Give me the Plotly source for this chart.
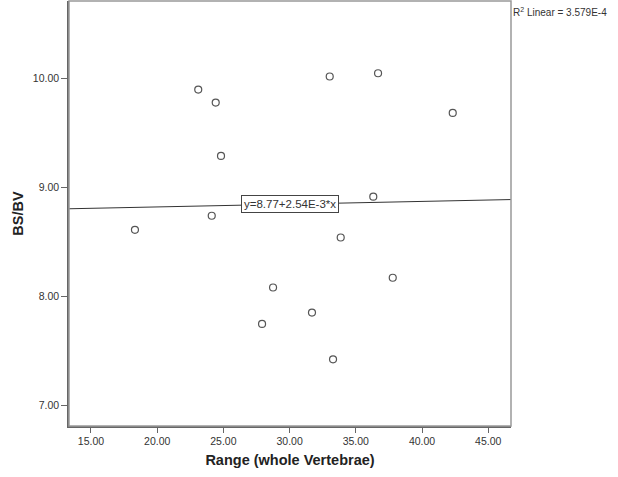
import plotly.graph_objects as go

# Data
range_whole_vertebrae = [18.32, 23.10, 24.42, 24.82, 24.12, 27.92, 28.75, 31.69,
                         33.28, 33.03, 36.68, 33.86, 36.32, 37.79, 42.32]
bs_bv = [8.61, 9.90, 9.78, 9.29, 8.74, 7.745, 8.08, 7.85,
         7.42, 10.02, 10.05, 8.54, 8.915, 8.17, 9.685]

fit_intercept = 8.77
fit_slope = 2.54e-3
r2_text = "R<sup>2</sup> Linear = 3.579E-4"
fit_text = "y=8.77+2.54E-3*x"

x_range = [13.34, 46.72]
y_range = [6.807, 10.714]
x_ticks = [15, 20, 25, 30, 35, 40, 45]
y_ticks = [7, 8, 9, 10]

FONT = "Liberation Sans, Arial, sans-serif"

fig = go.Figure()

fig.add_trace(go.Scatter(
    x=range_whole_vertebrae, y=bs_bv, mode="markers",
    marker=dict(symbol="circle-open", size=7, color="#555555", line=dict(width=1.2, color="#555555")),
    showlegend=False, hoverinfo="x+y"))

line_x = list(x_range)
line_y = [fit_intercept + fit_slope * v for v in line_x]
fig.add_trace(go.Scatter(
    x=line_x, y=line_y, mode="lines",
    line=dict(color="#333333", width=1), showlegend=False, hoverinfo="skip"))

label_x = 30
fig.add_annotation(
    x=label_x, y=fit_intercept + fit_slope * label_x, xref="x", yref="y",
    text=fit_text, showarrow=False,
    font=dict(family=FONT, size=11.5, color="#333333"),
    bgcolor="white", bordercolor="#444444", borderwidth=1, borderpad=2)

fig.add_annotation(
    x=1, y=1, xref="paper", yref="paper", xanchor="left", yanchor="top",
    yshift=-3, xshift=0,
    text=r2_text, showarrow=False,
    font=dict(family=FONT, size=10, color="#333333"))

fig.add_shape(type="rect", xref="paper", yref="paper", x0=0, x1=1, y0=0, y1=1,
              line=dict(color="#999999", width=1.5), layer="above")

fig.update_xaxes(
    range=x_range, tickvals=x_ticks, tickformat=".2f",
    showgrid=False, zeroline=False,
    showline=True, linecolor="#666666", linewidth=1.5,
    ticks="outside", ticklen=5, tickcolor="#666666", tickwidth=1,
    tickfont=dict(family=FONT, size=10.5, color="#333333"),
    title=dict(text="<b>Range (whole Vertebrae)</b>", standoff=9,
               font=dict(family=FONT, size=14.5, color="#222222")))

fig.update_yaxes(
    range=y_range, tickvals=y_ticks, tickformat=".2f",
    showgrid=False, zeroline=False,
    showline=True, linecolor="#666666", linewidth=1.5,
    ticks="outside", ticklen=6, tickcolor="#666666", tickwidth=1,
    tickfont=dict(family=FONT, size=10.5, color="#333333"),
    title=dict(text="<b>BS/BV</b>", standoff=6,
               font=dict(family=FONT, size=14.5, color="#222222")))

fig.update_layout(
    width=618, height=477,
    margin=dict(l=69, r=107, t=1, b=51),
    plot_bgcolor="white", paper_bgcolor="white",
    font=dict(family=FONT))

fig.write_html("out.html")
